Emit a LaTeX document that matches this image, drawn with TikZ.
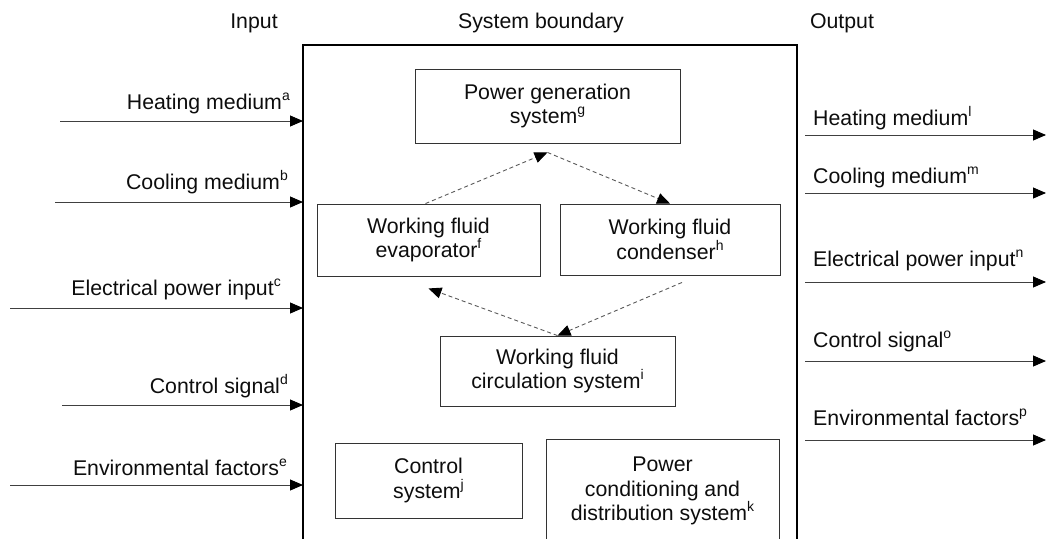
\documentclass[tikz,border=0pt]{standalone}
\usepackage{fontspec}
\setmainfont{Liberation Sans}
\usetikzlibrary{positioning}
\usetikzlibrary{arrows.meta}

\newcommand\sups[1]{\raisebox{0.42em}{\fontsize{14}{14}\selectfont #1}}

\tikzset{
  box/.style={draw=black!80, line width=0.9pt, align=center, inner sep=0pt, text=black!95},
  flow/.style={-{Triangle[length=13pt,width=11pt,color=black]}, line width=0.9pt, draw=black!75},
  cyc/.style={-{Triangle[length=13pt,width=11pt,color=black]}, dash pattern=on 4pt off 3pt, line width=0.9pt, draw=black!65},
  lbl/.style={inner sep=0pt, text=black!95},
}

\begin{document}
\begin{tikzpicture}[x=1pt,y=-1pt, every node/.style={font=\fontsize{21.3}{24.5}\selectfont}]
\useasboundingbox (0,0) rectangle (1046,538);

\node[lbl, anchor=base] (inTitle) at (254,28) {Input};
\node[lbl, anchor=base] (sysTitle) at (541,28) {System boundary};
\node[lbl, anchor=base] (outTitle) at (842,28) {Output};

% system boundary
\draw[line width=1.6pt] (303,545) |- (797,45) -- (797,545);
\coordinate (bndL) at (303,0);
\coordinate (bndR) at (797,0);

\node[box, minimum width=265, minimum height=74] (powgen) at (547.5,106) {Power generation\\system\sups{g}};
\node[box, minimum width=223, minimum height=72] (evap) at (428.5,240) {Working fluid\\evaporator\sups{f}};
\node[box, minimum width=220, minimum height=71] (cond) at (670,239.5) {Working fluid\\condenser\sups{h}};
\node[box, minimum width=235, minimum height=70] (circ) at (557.5,371) {Working fluid\\circulation system\sups{i}};
\node[box, minimum width=187, minimum height=75] (ctrl) at (428.5,480.5) {Control\\system\sups{j}};
\node[box, minimum width=233, minimum height=104] (pcd) at (662.5,491) {Power\\conditioning and\\distribution system\sups{k}};

% working fluid cycle
\draw[cyc] ([xshift=-3pt]evap.north) -- ([yshift=-9pt]powgen.south);
\draw[cyc] ([yshift=-9pt]powgen.south) -- (cond.north);
\draw[cyc] ([xshift=12pt,yshift=-7pt]cond.south) -- (circ.north);
\draw[cyc] (circ.north) -- ([yshift=-12pt]evap.south);

% inputs
\foreach \nm/\ya/\xs/\xr/\dy/\txt in {
  heatIn/121/60/290/12/{Heating medium\sups{a}},
  coolIn/202/55/288/13/{Cooling medium\sups{b}},
  elecIn/308/10/281/13/{Electrical power input\sups{c}},
  ctrlIn/405/62/288/12/{Control signal\sups{d}},
  envIn/485/10/287/10/{Environmental factors\sups{e}}}
{
  \coordinate (\nm) at (\xs,\ya);
  \node[lbl, anchor=base east] (\nm-l) at (\xr,\ya-\dy) {\txt};
  \draw[flow] (\nm) -- (\nm -| bndL);
}

% outputs
\foreach \nm/\ya/\dy/\txt in {
  heatOut/135/10/{Heating medium\sups{l}},
  coolOut/193/10/{Cooling medium\sups{m}},
  elecOut/282/16/{Electrical power input\sups{n}},
  ctrlOut/361/14/{Control signal\sups{o}},
  envOut/440/15/{Environmental factors\sups{p}}}
{
  \coordinate (\nm) at (805,\ya);
  \coordinate (\nm-e) at (1046,\ya);
  \node[lbl, anchor=base west] (\nm-l) at (813,\ya-\dy) {\txt};
  \draw[flow] (\nm) -- (\nm-e);
}

\end{tikzpicture}
\end{document}
